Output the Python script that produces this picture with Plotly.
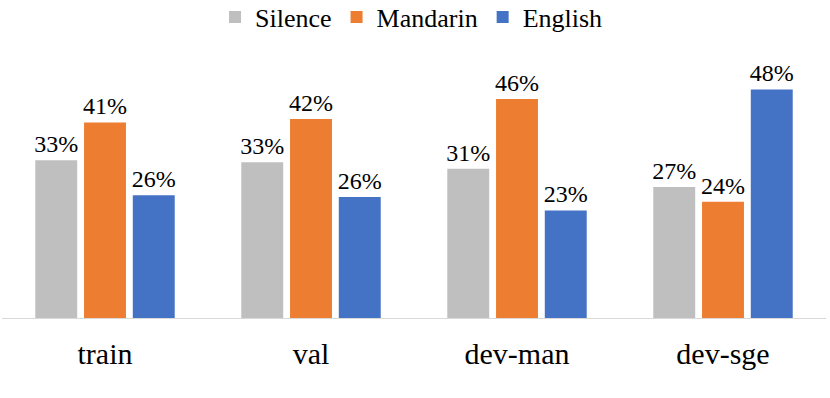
import plotly.graph_objects as go

categories = ["train", "val", "dev-man", "dev-sge"]
silence = [33.0, 32.6, 31.2, 27.4]
mandarin = [40.9, 41.6, 45.8, 24.3]
english = [25.7, 25.3, 22.5, 47.8]
silence_labels = ["33%", "33%", "31%", "27%"]
mandarin_labels = ["41%", "42%", "46%", "24%"]
english_labels = ["26%", "26%", "23%", "48%"]

series = [
    ("Silence", silence, silence_labels, "#BFBFBF"),
    ("Mandarin", mandarin, mandarin_labels, "#ED7D31"),
    ("English", english, english_labels, "#4472C4"),
]

SERIF = "Liberation Serif"

fig = go.Figure()
for name, vals, labels, color in series:
    fig.add_trace(go.Bar(
        x=categories, y=vals, name=name, text=labels,
        textposition="outside", cliponaxis=False, constraintext="none",
        textfont=dict(family=SERIF, size=24, color="#000000"),
        marker=dict(color=color, line=dict(width=0)),
    ))

fig.update_layout(
    width=830, height=398,
    margin=dict(l=2, r=4, t=45, b=80),
    paper_bgcolor="white", plot_bgcolor="white",
    barmode="group", bargap=0.29, bargroupgap=0.14,
    font=dict(family=SERIF, color="#000000"),
    legend=dict(orientation="h", x=0.497, xanchor="center", y=0.957, yanchor="middle",
                yref="container",
                font=dict(size=26, family=SERIF), itemclick=False, itemwidth=30),
    showlegend=True,
)
fig.update_xaxes(showline=True, linecolor="#D9D9D9", linewidth=1, automargin=False,
                 tickfont=dict(size=30, family=SERIF),
                 ticks="", ticklabelstandoff=9)
fig.update_yaxes(range=[0, 57.1], showgrid=False, showticklabels=False, automargin=False,
                 zeroline=False, showline=False)

fig.write_html("out.html", config={"displayModeBar": False},
               post_script="document.body.style.margin='0';")
